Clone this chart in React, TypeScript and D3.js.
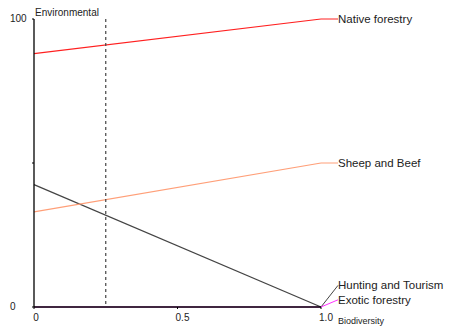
import React from "react";
import * as d3 from "d3";

const xPoints = [0, 1];
const seriesNames = ["Native forestry", "Sheep and Beef", "Hunting and Tourism", "Exotic forestry"];
const nativeForestry = [88, 100];
const sheepAndBeef = [33, 50];
const huntingAndTourism = [42.5, 0];
const exoticForestry = [0, 0];
const seriesColors = ["#ff2020", "#ff9f78", "#444444", "#ff30ff"];
const labelValues = [100, 50, 7.5, 2.5];
const xTicks = [0, 0.5, 1.0];
const xTickLabels = ["0", "0.5", "1.0"];
const yTicks = [0, 50, 100];
const yTickLabels = ["0", "", "100"];
const markerX = 0.25;

const W = 453, H = 329;

export default function App() {
  const x = d3.scaleLinear().domain([0, 1]).range([34, 321]);
  const y = d3.scaleLinear().domain([0, 100]).range([307, 19]);
  const all = [nativeForestry, sheepAndBeef, huntingAndTourism, exoticForestry];
  const line = d3.line<number>().x((_, i) => x(xPoints[i])).y((d) => y(d));
  const labelX = 338;
  const font = "'Liberation Sans', Arial, sans-serif";
  return (
    <svg width={W} height={H} style={{ position: "absolute", left: 0, top: 0, background: "#fff" }}>
      {/* series lines */}
      {all.slice().reverse().map((vals, ri) => {
        const i = all.length - 1 - ri;
        return <path key={i} d={line(vals) || ""} fill="none" stroke={seriesColors[i]} strokeWidth={1.2} />;
      })}
      {/* axes */}
      <line x1={x(0)} x2={x(0)} y1={y(100)} y2={y(0)} stroke="#000" strokeWidth={1.3} />
      <line x1={x(0)} x2={x(1)} y1={y(0)} y2={y(0)} stroke="#000" strokeWidth={1.6} />
      {yTicks.map((t) => (
        <line key={t} x1={x(0) - 2} x2={x(0)} y1={y(t)} y2={y(t)} stroke="#000" />
      ))}
      {xTicks.map((t) => (
        <line key={t} x1={x(t)} x2={x(t)} y1={y(0)} y2={y(0) + 2} stroke="#000" />
      ))}
      {/* dashed marker */}
      <line x1={x(markerX)} x2={x(markerX)} y1={y(100)} y2={y(0)} stroke="#444" strokeDasharray="3,3" strokeWidth={1.2} />
      {/* leader lines and labels */}
      {all.map((vals, i) => {
        const ex = x(xPoints[xPoints.length - 1]);
        const ey = y(vals[vals.length - 1]);
        const ly = y(labelValues[i]);
        return (
          <g key={i}>
            <line x1={ex} y1={ey} x2={labelX} y2={ly} stroke={seriesColors[i]} strokeWidth={1} />
            <text x={labelX} y={ly} dy="0.35em" fontFamily={font} fontSize={11.5} fill="#222">
              {seriesNames[i]}
            </text>
          </g>
        );
      })}
      {/* tick labels */}
      {yTicks.map((t, i) => (
        <text key={t} x={10} y={y(t)} dy="0.3em" textAnchor="start" fontFamily={font} fontSize={10} fill="#222">
          {yTickLabels[i]}
        </text>
      ))}
      {xTicks.map((t, i) => (
        <text key={t} x={x(t) + (i === 0 ? 2 : 5)} y={y(0) + 14} textAnchor="middle" fontFamily={font} fontSize={10} fill="#222">
          {xTickLabels[i]}
        </text>
      ))}
      <text x={35} y={16} fontFamily={font} fontSize={10} fill="#222">Environmental</text>
      <text x={338} y={324} fontFamily={font} fontSize={9} fill="#222">Biodiversity</text>
    </svg>
  );
}
